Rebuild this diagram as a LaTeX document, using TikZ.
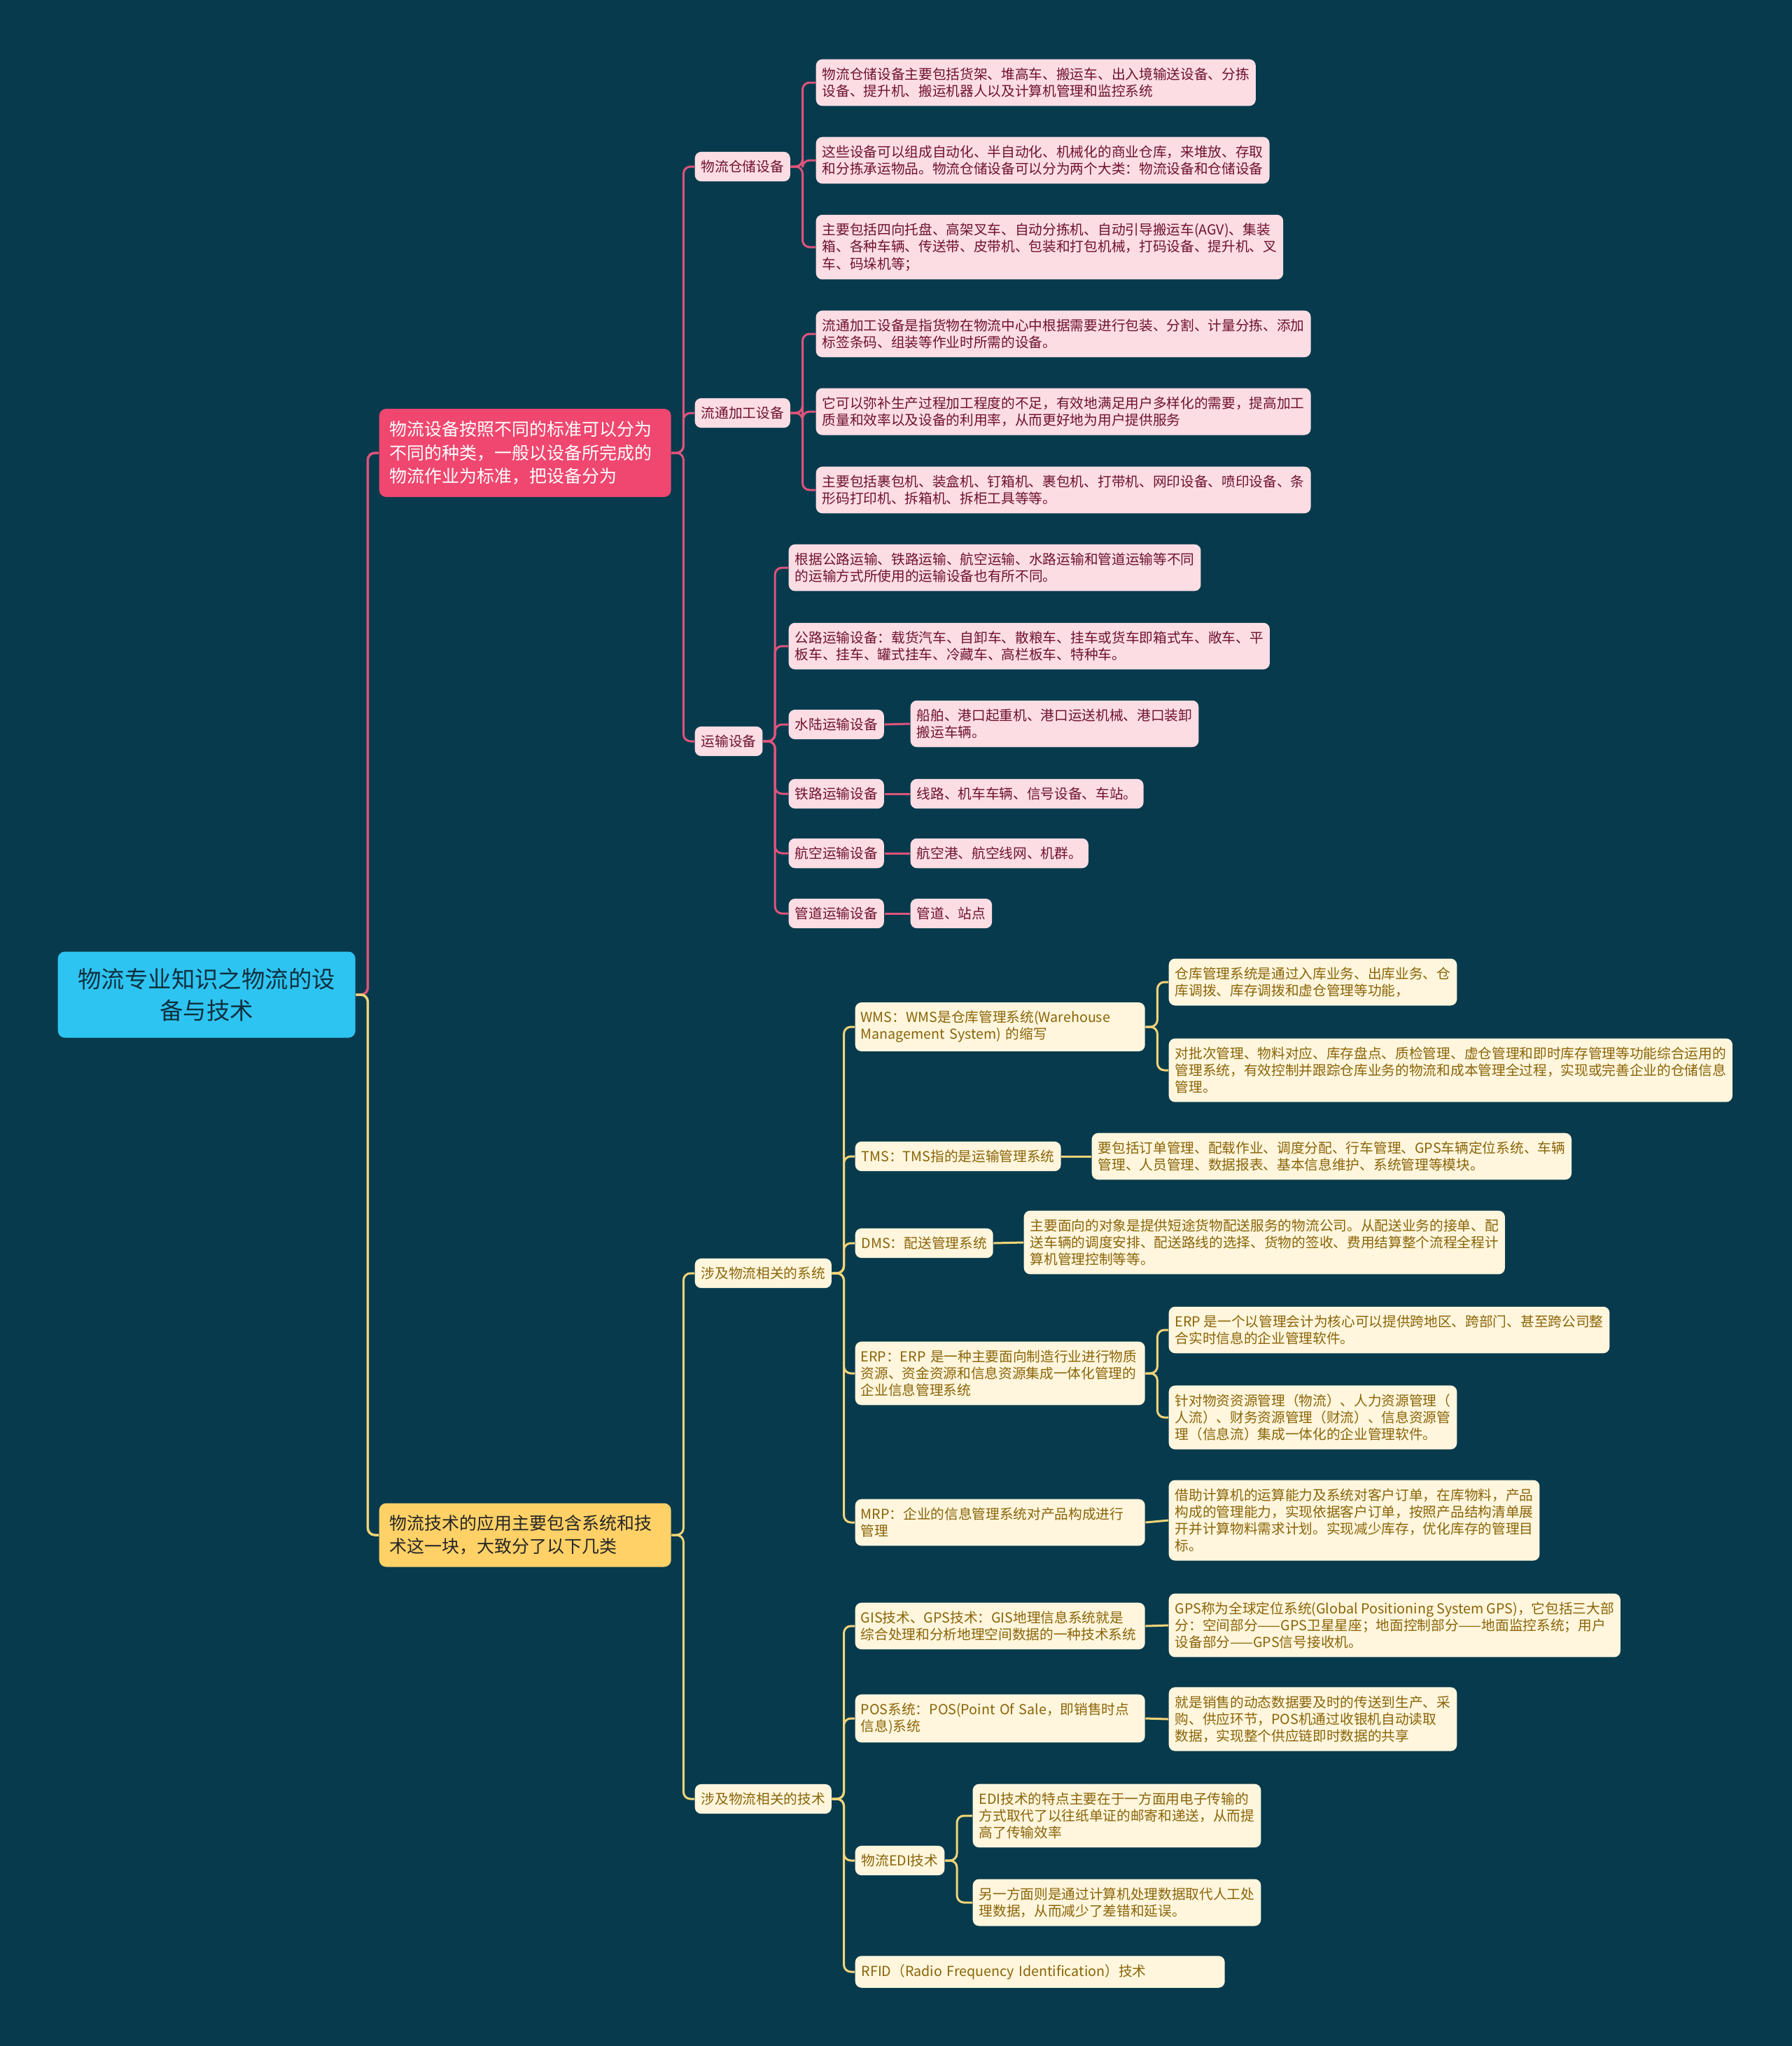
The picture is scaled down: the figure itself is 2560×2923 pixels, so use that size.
\documentclass[tikz,border=0pt]{standalone}
\usepackage{fontspec}
\setmainfont{Noto Sans CJK SC}
\usetikzlibrary{positioning}

\definecolor{bgteal}{RGB}{7,58,76}
\definecolor{rootblue}{RGB}{46,196,241}
\definecolor{roottext}{RGB}{14,48,64}
\definecolor{mainred}{RGB}{239,71,111}
\definecolor{mainyellow}{RGB}{255,209,102}
\definecolor{linkred}{RGB}{222,84,124}
\definecolor{linkyellow}{RGB}{242,212,120}
\definecolor{pinkfill}{RGB}{253,221,228}
\definecolor{pinktext}{RGB}{110,18,48}
\definecolor{creamfill}{RGB}{255,246,221}
\definecolor{creamtext}{RGB}{138,100,8}

\begin{document}
\begin{tikzpicture}[
        x=0.1mm, y=-0.1mm,
        root_box/.style={rectangle, fill=rootblue, text=roottext, rounded corners=1mm, align=center,
            font=\fontsize{9.5}{12.8}\selectfont, minimum width=42.5mm, minimum height=12.3mm, anchor=west},
        main_box/.style={rectangle, rounded corners=1mm, align=left, inner xsep=1.5mm,
            font=\fontsize{7.1}{9.5}\selectfont, text width=38.7mm, anchor=west},
        leaf/.style={rectangle, rounded corners=0.9mm, align=left, inner xsep=0.9mm, inner ysep=1.2mm,
            font=\fontsize{5.6}{6.9}\selectfont, anchor=west},
        leaf_pink/.style={leaf, fill=pinkfill, text=pinktext},
        leaf_cream/.style={leaf, fill=creamfill, text=creamtext},
        wide_cream/.style={leaf_cream, text width=39.8mm, inner xsep=0.8mm},
        link_red/.style={draw=linkred, line width=0.3mm, rounded corners=1mm},
        link_yellow/.style={draw=linkyellow, line width=0.3mm, rounded corners=1mm}
    ]
    \fill[bgteal] (0,0) rectangle (2560,2923);
    \useasboundingbox (0,0) rectangle (2560,2923);

    % Root and the two main branches
    \node [root_box] (P_root) at (82,1421) {物流专业知识之物流的设\\备与技术};
    \node [main_box, fill=mainred, text=white, minimum height=12.6mm] (P_equip) at (541,647)
        {物流设备按照不同的标准可以分为\\不同的种类，一般以设备所完成的\\物流作业为标准，把设备分为};
    \node [main_box, fill=mainyellow, text=black!85, minimum height=9.1mm] (P_tech) at (541,2193)
        {物流技术的应用主要包含系统和技\\术这一块，大致分了以下几类};

    % Equipment side
    \node [leaf_pink] (P_store) at (992,238) {物流仓储设备};
    \node [leaf_pink] (P_proc) at (992,590) {流通加工设备};
    \node [leaf_pink] (P_trans) at (992,1059) {运输设备};

    \node [leaf_pink] (P_store_a) at (1165,118) {物流仓储设备主要包括货架、堆高车、搬运车、出入境输送设备、分拣\\设备、提升机、搬运机器人以及计算机管理和监控系统};
    \node [leaf_pink] (P_store_b) at (1165,229) {这些设备可以组成自动化、半自动化、机械化的商业仓库，来堆放、存取\\和分拣承运物品。物流仓储设备可以分为两个大类：物流设备和仓储设备};
    \node [leaf_pink] (P_store_c) at (1165,353) {主要包括四向托盘、高架叉车、自动分拣机、自动引导搬运车(AGV)、集装\\箱、各种车辆、传送带、皮带机、包装和打包机械，打码设备、提升机、叉\\车、码垛机等；};

    \node [leaf_pink] (P_proc_a) at (1165,477) {流通加工设备是指货物在物流中心中根据需要进行包装、分割、计量分拣、添加\\标签条码、组装等作业时所需的设备。};
    \node [leaf_pink] (P_proc_b) at (1165,588) {它可以弥补生产过程加工程度的不足，有效地满足用户多样化的需要，提高加工\\质量和效率以及设备的利用率，从而更好地为用户提供服务};
    \node [leaf_pink] (P_proc_c) at (1165,700) {主要包括裹包机、装盒机、钉箱机、裹包机、打带机、网印设备、喷印设备、条\\形码打印机、拆箱机、拆柜工具等等。};

    \node [leaf_pink] (P_trans_a) at (1126,811) {根据公路运输、铁路运输、航空运输、水路运输和管道运输等不同\\的运输方式所使用的运输设备也有所不同。};
    \node [leaf_pink] (P_trans_b) at (1126,923) {公路运输设备：载货汽车、自卸车、散粮车、挂车或货车即箱式车、敞车、平\\板车、挂车、罐式挂车、冷藏车、高栏板车、特种车。};
    \node [leaf_pink] (P_water) at (1126,1035) {水陆运输设备};
    \node [leaf_pink] (P_rail) at (1126,1134) {铁路运输设备};
    \node [leaf_pink] (P_air) at (1126,1219) {航空运输设备};
    \node [leaf_pink] (P_pipe) at (1126,1305) {管道运输设备};
    \node [leaf_pink] (P_water_a) at (1300,1034) {船舶、港口起重机、港口运送机械、港口装卸\\搬运车辆。};
    \node [leaf_pink] (P_rail_a) at (1300,1134) {线路、机车车辆、信号设备、车站。};
    \node [leaf_pink] (P_air_a) at (1300,1219) {航空港、航空线网、机群。};
    \node [leaf_pink] (P_pipe_a) at (1300,1305) {管道、站点};

    % Technology side
    \node [leaf_cream] (P_sys) at (992,1819) {涉及物流相关的系统};
    \node [leaf_cream] (P_techs) at (992,2570) {涉及物流相关的技术};

    \node [wide_cream] (P_wms) at (1221,1467) {WMS：WMS是仓库管理系统(Warehouse\\Management System) 的缩写};
    \node [leaf_cream] (P_wms_a) at (1669,1403) {仓库管理系统是通过入库业务、出库业务、仓\\库调拨、库存调拨和虚仓管理等功能，};
    \node [leaf_cream] (P_wms_b) at (1669,1529) {对批次管理、物料对应、库存盘点、质检管理、虚仓管理和即时库存管理等功能综合运用的\\管理系统，有效控制并跟踪仓库业务的物流和成本管理全过程，实现或完善企业的仓储信息\\管理。};
    \node [leaf_cream] (P_tms) at (1221,1652) {TMS：TMS指的是运输管理系统};
    \node [leaf_cream] (P_tms_a) at (1559,1652) {要包括订单管理、配载作业、调度分配、行车管理、GPS车辆定位系统、车辆\\管理、人员管理、数据报表、基本信息维护、系统管理等模块。};
    \node [leaf_cream] (P_dms) at (1221,1776) {DMS：配送管理系统};
    \node [leaf_cream] (P_dms_a) at (1462,1775) {主要面向的对象是提供短途货物配送服务的物流公司。从配送业务的接单、配\\送车辆的调度安排、配送路线的选择、货物的签收、费用结算整个流程全程计\\算机管理控制等等。};
    \node [wide_cream] (P_erp) at (1221,1962) {ERP：ERP~是一种主要面向制造行业进行物质\\资源、资金资源和信息资源集成一体化管理的\\企业信息管理系统};
    \node [leaf_cream] (P_erp_a) at (1669,1900) {ERP 是一个以管理会计为核心可以提供跨地区、跨部门、甚至跨公司整\\合实时信息的企业管理软件。};
    \node [leaf_cream] (P_erp_b) at (1669,2025) {针对物资资源管理（物流）、人力资源管理（\\人流）、财务资源管理（财流）、信息资源管\\理（信息流）集成一体化的企业管理软件。};
    \node [wide_cream] (P_mrp) at (1221,2175) {MRP：企业的信息管理系统对产品构成进行\\管理};
    \node [leaf_cream] (P_mrp_a) at (1669,2172) {借助计算机的运算能力及系统对客户订单，在库物料，产品\\构成的管理能力，实现依据客户订单，按照产品结构清单展\\开并计算物料需求计划。实现减少库存，优化库存的管理目\\标。};

    \node [wide_cream] (P_gis) at (1221,2323) {GIS技术、GPS技术：GIS地理信息系统就是\\综合处理和分析地理空间数据的一种技术系统};
    \node [leaf_cream] (P_gis_a) at (1669,2322) {GPS称为全球定位系统(Global Positioning System GPS)，它包括三大部\\分：空间部分——GPS卫星星座；地面控制部分——地面监控系统；用户\\设备部分——GPS信号接收机。};
    \node [wide_cream] (P_pos) at (1221,2455) {POS系统：POS(Point Of Sale，即销售时点\\信息)系统};
    \node [leaf_cream] (P_pos_a) at (1669,2456) {就是销售的动态数据要及时的传送到生产、采\\购、供应环节，POS机通过收银机自动读取\\数据，实现整个供应链即时数据的共享};
    \node [leaf_cream] (P_edi) at (1221,2658) {物流EDI技术};
    \node [leaf_cream] (P_edi_a) at (1389,2594) {EDI技术的特点主要在于一方面用电子传输的\\方式取代了以往纸单证的邮寄和递送，从而提\\高了传输效率};
    \node [leaf_cream] (P_edi_b) at (1389,2718) {另一方面则是通过计算机处理数据取代人工处\\理数据，从而减少了差错和延误。};
    \node [leaf_cream, text width=51mm] (P_rfid) at (1221,2817) {RFID（Radio Frequency Identification）技术};

    % Draw edges
    \path [link_red, line width=0.35mm] (P_root.east) -- ++(1.7mm,0) |- (P_equip.west);
    \path [link_yellow, line width=0.35mm] (P_root.east) -- ++(1.7mm,0) |- (P_tech.west);

    \foreach \kid in {P_store, P_proc, P_trans}
        \path [link_red] (P_equip.east) -- ++(1.7mm,0) |- (\kid.west);
    \foreach \kid in {P_store_a, P_store_b, P_store_c}
        \path [link_red] (P_store.east) -- ++(1.7mm,0) |- (\kid.west);
    \foreach \kid in {P_proc_a, P_proc_b, P_proc_c}
        \path [link_red] (P_proc.east) -- ++(1.7mm,0) |- (\kid.west);
    \foreach \kid in {P_trans_a, P_trans_b, P_water, P_rail, P_air, P_pipe}
        \path [link_red] (P_trans.east) -- ++(1.7mm,0) |- (\kid.west);
    \path [link_red] (P_water.east) -- (P_water_a.west);
    \path [link_red] (P_rail.east) -- (P_rail_a.west);
    \path [link_red] (P_air.east) -- (P_air_a.west);
    \path [link_red] (P_pipe.east) -- (P_pipe_a.west);

    \foreach \kid in {P_sys, P_techs}
        \path [link_yellow] (P_tech.east) -- ++(1.7mm,0) |- (\kid.west);
    \foreach \kid in {P_wms, P_tms, P_dms, P_erp, P_mrp}
        \path [link_yellow] (P_sys.east) -- ++(1.7mm,0) |- (\kid.west);
    \foreach \kid in {P_gis, P_pos, P_edi, P_rfid}
        \path [link_yellow] (P_techs.east) -- ++(1.7mm,0) |- (\kid.west);
    \foreach \kid in {P_wms_a, P_wms_b}
        \path [link_yellow] (P_wms.east) -- ++(1.7mm,0) |- (\kid.west);
    \foreach \kid in {P_erp_a, P_erp_b}
        \path [link_yellow] (P_erp.east) -- ++(1.7mm,0) |- (\kid.west);
    \foreach \kid in {P_edi_a, P_edi_b}
        \path [link_yellow] (P_edi.east) -- ++(1.7mm,0) |- (\kid.west);
    \path [link_yellow] (P_tms.east) -- (P_tms_a.west);
    \path [link_yellow] (P_dms.east) -- (P_dms_a.west);
    \path [link_yellow] (P_mrp.east) -- (P_mrp_a.west);
    \path [link_yellow] (P_gis.east) -- (P_gis_a.west);
    \path [link_yellow] (P_pos.east) -- (P_pos_a.west);

\end{tikzpicture}
\end{document}
